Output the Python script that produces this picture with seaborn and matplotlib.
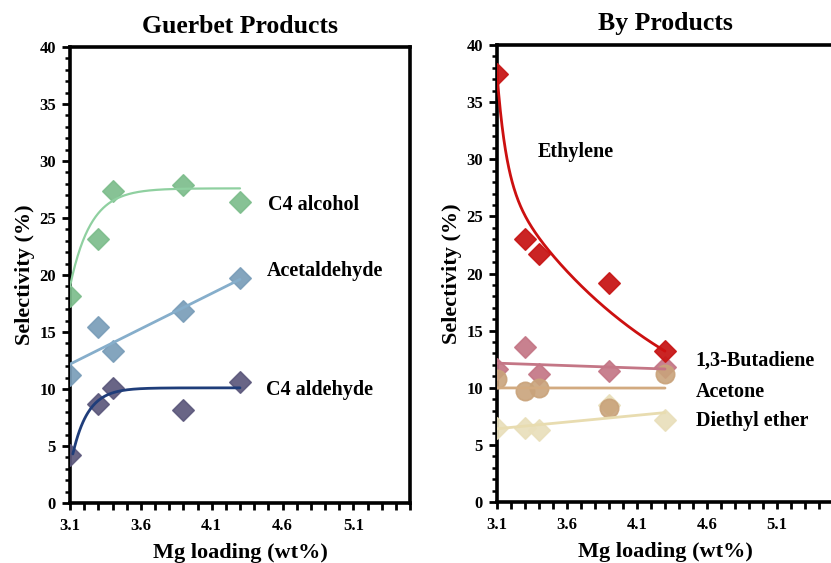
import numpy as np
import pandas as pd
import matplotlib
matplotlib.use("Agg")
import matplotlib.pyplot as plt
from matplotlib.ticker import MultipleLocator, FixedLocator
import seaborn as sns

# ---------------- data ----------------
mg_loading = [3.1, 3.3, 3.4, 3.9, 4.3]

c4_alcohol = [18.2, 23.2, 27.4, 27.9, 26.4]
acetaldehyde = [11.2, 15.4, 13.3, 16.8, 19.7]
c4_aldehyde = [4.2, 8.7, 10.1, 8.2, 10.6]

ethylene = [37.5, 23.0, 21.7, 19.2, 13.2]
butadiene = [11.6, 13.6, 11.2, 11.5, 11.8]
acetone = [10.8, 9.7, 10.0, 8.2, 11.2]
diethyl_ether = [6.5, 6.5, 6.3, 8.5, 7.2]

x_ticks = [3.1, 3.6, 4.1, 4.6, 5.1]
x_tick_labels = ["3.1", "3.6", "4.1", "4.6", "5.1"]
y_ticks = [0, 5, 10, 15, 20, 25, 30, 35, 40]

# trend-curve parameters (saturating / decaying fits shown in the original)
alc_fit = dict(top=27.6, drop=8.6, k=6.86, x0=3.1)
ald_fit = dict(top=10.1, drop=5.8, k=9.2, x0=3.12)
eth_fit = dict(base=3.9, a=9.3, k1=15.0, b=24.3, k2=0.8, x0=3.1)

# ---------------- style ----------------
sns.set_style("white")
plt.rcParams["font.family"] = ["Liberation Serif", "DejaVu Serif"]
plt.rcParams["font.weight"] = "bold"
plt.rcParams["text.color"] = "black"
plt.rcParams["axes.labelcolor"] = "black"
plt.rcParams["xtick.color"] = "black"
plt.rcParams["ytick.color"] = "black"
plt.rcParams["xtick.labelcolor"] = "black"
plt.rcParams["ytick.labelcolor"] = "black"

fig = plt.figure(figsize=(8.31, 5.63), dpi=100)
ax1 = fig.add_axes([70 / 831, 1 - 503 / 563, 340 / 831, 456 / 563])
ax2 = fig.add_axes([497 / 831, 1 - 502 / 563, 336 / 831, 457 / 563])

df = pd.DataFrame({
    "x": mg_loading,
    "C4 alcohol": c4_alcohol,
    "Acetaldehyde": acetaldehyde,
    "C4 aldehyde": c4_aldehyde,
    "Ethylene": ethylene,
    "1,3-Butadiene": butadiene,
    "Acetone": acetone,
    "Diethyl ether": diethyl_ether,
})

MS_D = 118  # diamond marker area (pt^2)
MS_O = 175  # circle marker area (pt^2)


def scatter(ax, col, color, marker="D", z=3, alpha=0.92, s=MS_D):
    sns.scatterplot(data=df, x="x", y=col, ax=ax, marker=marker, s=s,
                    color=color, edgecolor=color, linewidth=1.2, alpha=alpha,
                    zorder=z, legend=False)


def linfit(ax, col, color, z=4):
    sns.regplot(data=df, x="x", y=col, ax=ax, scatter=False, ci=None,
                truncate=True,
                line_kws=dict(color=color, lw=2.0, zorder=z))


# ---------------- left panel: Guerbet products ----------------
scatter(ax1, "C4 alcohol", "#7dbd8c")
scatter(ax1, "Acetaldehyde", "#7a9db9")
scatter(ax1, "C4 aldehyde", "#5c587c")

xs = np.linspace(alc_fit["x0"], 4.3, 200)
ys = alc_fit["top"] - alc_fit["drop"] * np.exp(-alc_fit["k"] * (xs - alc_fit["x0"]))
sns.lineplot(x=xs, y=ys, ax=ax1, color="#8fd0a0", lw=1.6, zorder=4)

linfit(ax1, "Acetaldehyde", "#86aecb")

xs = np.linspace(ald_fit["x0"], 4.3, 200)
ys = ald_fit["top"] - ald_fit["drop"] * np.exp(-ald_fit["k"] * (xs - ald_fit["x0"]))
sns.lineplot(x=xs, y=ys, ax=ax1, color="#1f3d7a", lw=2.0, zorder=4)

# ---------------- right panel: by products ----------------
scatter(ax2, "Diethyl ether", "#e9dfbb", z=3)
scatter(ax2, "1,3-Butadiene", "#c47686", z=3)
scatter(ax2, "Acetone", "#c9a37b", marker="o", z=3.5, alpha=0.9, s=MS_O)
scatter(ax2, "Ethylene", "#c81818", z=3.6, alpha=0.95)

xs = np.linspace(eth_fit["x0"], 4.3, 300)
t = xs - eth_fit["x0"]
ys = eth_fit["base"] + eth_fit["a"] * np.exp(-eth_fit["k1"] * t) + eth_fit["b"] * np.exp(-eth_fit["k2"] * t)
sns.lineplot(x=xs, y=ys, ax=ax2, color="#cc1010", lw=2.0, zorder=4)

linfit(ax2, "1,3-Butadiene", "#c47686")
linfit(ax2, "Acetone", "#d2aa80")
linfit(ax2, "Diethyl ether", "#e8dcb0")

# ---------------- axes formatting ----------------
tick_font = dict(fontsize=12, fontweight="bold", color="black")
for ax in (ax1, ax2):
    ax.set_xlim(3.1, 5.5)
    ax.set_ylim(0, 40)
    ax.xaxis.set_major_locator(FixedLocator(x_ticks))
    ax.set_xticklabels(x_tick_labels, **tick_font)
    ax.xaxis.set_minor_locator(MultipleLocator(0.1))
    ax.set_yticks(y_ticks)
    ax.set_yticklabels([str(v) for v in y_ticks], **tick_font)
    ax.yaxis.set_minor_locator(MultipleLocator(1))
    ax.tick_params(axis="x", which="both", direction="out", length=5, width=2,
                   bottom=True, pad=6, color="black")
    ax.tick_params(axis="y", which="major", direction="out", length=6, width=2,
                   left=True, pad=4, color="black")
    ax.tick_params(axis="y", which="minor", direction="out", length=3.5, width=1.8,
                   left=True, color="black")
    for sp in ax.spines.values():
        sp.set_visible(True)
        sp.set_color("black")
        sp.set_linewidth(2.6)
    ax.set_xlabel("Mg loading (wt%)", fontsize=16, fontweight="bold", labelpad=6,
                  color="black")
    ax.set_ylabel("Selectivity (%)", fontsize=16, fontweight="bold", labelpad=3,
                  color="black")
    ax.grid(False)

ax1.set_title("Guerbet Products", fontsize=18.5, fontweight="bold", pad=10,
              color="black")
ax2.set_title("By Products", fontsize=18.5, fontweight="bold", pad=11,
              color="black")
ax2.title.set_x((665 - 497) / 336)

lab = dict(fontsize=14.5, fontweight="bold", ha="left", va="center", color="black")
ax1.text(4.50, 26.1, "C4 alcohol", **lab)
ax1.text(4.49, 20.35, "Acetaldehyde", **lab)
ax1.text(4.48, 9.9, "C4 aldehyde", **lab)

ax2.text(3.39, 30.6, "Ethylene", **lab)
ax2.text(4.52, 12.4, "1,3-Butadiene", **lab)
ax2.text(4.52, 9.6, "Acetone", **lab)
ax2.text(4.52, 7.1, "Diethyl ether", **lab)

fig.savefig("out.png", dpi=100)
